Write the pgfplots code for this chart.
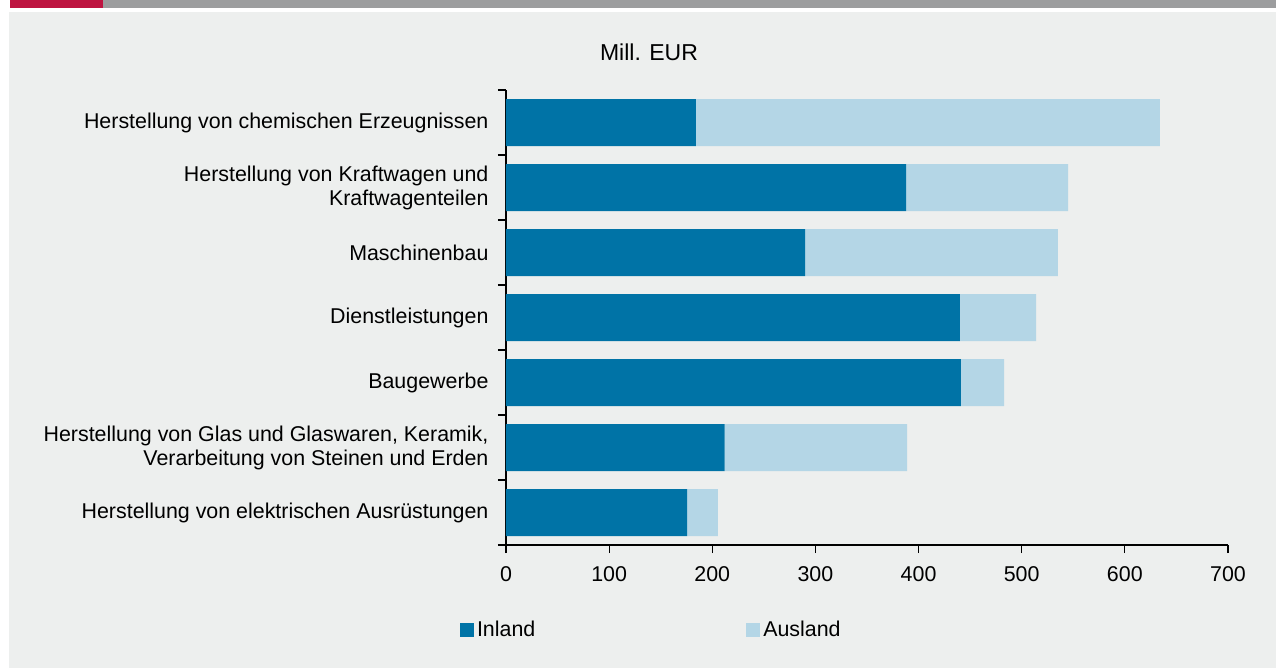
\documentclass[border=0pt]{standalone}
\usepackage{pgfplots}
\pgfplotsset{compat=1.18}
\usepackage{fontspec}
\setmainfont{Liberation Sans}
\definecolor{inland}{HTML}{0073A6}
\definecolor{ausland}{HTML}{B4D6E6}
\definecolor{panel}{HTML}{EDEFEE}
\definecolor{hdrred}{HTML}{BE1541}
\definecolor{hdrgrey}{HTML}{9C9D9E}
\begin{document}
\fontsize{10.7}{12}\selectfont
\begin{tikzpicture}
\fill[white] (0,0) rectangle (638pt,-334pt);
\fill[panel] (4.5pt,-6pt) rectangle (638pt,-334pt);
\fill[hdrgrey] (51.5pt,0) rectangle (638pt,-4pt);
\fill[hdrred] (5pt,0) rectangle (51.5pt,-4pt);
\begin{axis}[
  at={(253pt,-272.5pt)}, anchor=south west,
  width=361pt, height=227.5pt, scale only axis,
  xbar stacked, bar width=23.5pt,
  xmin=0, xmax=700, ymin=0.5, ymax=7.5,
  axis lines=left, axis line style={-, black, line width=0.6pt},
  tick align=outside, major tick length=4pt,
  tick style={black, line width=0.6pt},
  xtick={0,100,...,700},
  xticklabel style={yshift=-3pt},
  ytick={0.5,1.5,...,7.5}, yticklabels={},
  extra y ticks={1,2,3,4,5,6,7},
  extra y tick style={major tick length=0pt},
  extra y tick labels={
    {Herstellung von elektrischen Ausrüstungen},
    {Herstellung von Glas und Glaswaren, Keramik,\\Verarbeitung von Steinen und Erden\ },
    {Baugewerbe},
    {Dienstleistungen},
    {Maschinenbau},
    {Herstellung von Kraftwagen und\ \\Kraftwagenteilen},
    {Herstellung von chemischen Erzeugnissen}},
  yticklabel style={align=right, xshift=-5pt},
  /pgf/number format/assume math mode=true,
  legend columns=2,
  legend style={at={(0.202,-0.187)}, anchor=center, draw=none, fill=none,
    /tikz/every even column/.append style={column sep=104pt},
    nodes={inner sep=1.5pt}},
  legend image code/.code={\fill[#1,draw=none] (0pt,-3.5pt) rectangle (7pt,3.5pt);},
]
\addplot[fill=inland, draw=none] coordinates {
  (175.5,1) (212,2) (441,3) (440,4) (290,5) (388,6) (184,7)};
\addplot[fill=ausland, draw=none] coordinates {
  (30,1) (177,2) (42,3) (74,4) (245,5) (157,6) (450,7)};
\legend{Inland, Ausland}
\end{axis}
\node[font=\fontsize{11.5}{13}\selectfont] at (324.5pt,-26pt) {Mill. EUR};
\end{tikzpicture}
\end{document}
